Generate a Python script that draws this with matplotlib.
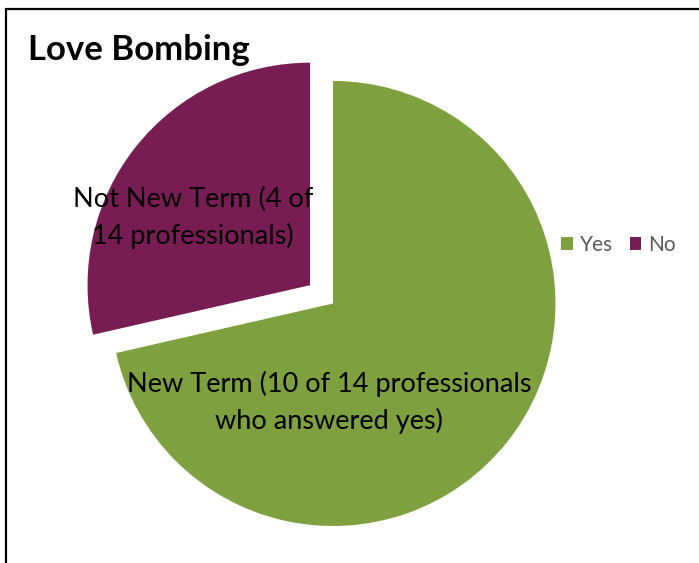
import numpy as np
import matplotlib.pyplot as plt
from matplotlib.patches import Rectangle

# data
answers = ['Yes', 'No']
counts = [10, 4]
colors = ['#7ea03e', '#771d53']
slice_labels = ['New Term (10 of 14 professionals\nwho answered yes)',
                'Not New Term (4 of\n14 professionals)']
title = 'Love Bombing'

plt.rcParams['font.family'] = ['Lato', 'DejaVu Sans']

W, H = 699, 563
fig = plt.figure(figsize=(W / 100, H / 100), dpi=100)

# pie centre / radius in pixels (measured on the reference)
cx, cy, r = 333, 303.5, 222.5
L = 1.3
size = 2 * L * r
ax = fig.add_axes([(cx - L * r) / W, (H - cy - L * r) / H, size / W, size / H])

wedges, _ = ax.pie(counts, colors=colors, startangle=90, counterclock=False,
                   explode=[0, 0.132], radius=1,
                   wedgeprops=dict(linewidth=0))
for w in wedges:
    w.set_clip_on(False)
ax.set_xlim(-L, L)
ax.set_ylim(-L, L)
ax.set_aspect('equal')
ax.axis('off')

# slice labels
ax.text(-0.018, -0.445, slice_labels[0], ha='center', va='center',
        fontsize=19.5, color='black', linespacing=1.5)
ax.text(-0.63, 0.385, slice_labels[1], ha='center', va='center',
        fontsize=19.5, color='black', linespacing=1.5)

fig.text(28 / W, 1 - 50 / H, title, fontsize=25, fontweight='bold',
         ha='left', va='center')

leg = fig.legend(wedges, answers, loc='center left',
                 bbox_to_anchor=(553 / W, 1 - 245 / H), ncol=2, frameon=False,
                 fontsize=15, handlelength=0.55, handleheight=0.55,
                 handletextpad=0.35, columnspacing=0.8, borderaxespad=0)
for t in leg.get_texts():
    t.set_color('#595959')

# outer chart border
fig.patches.append(Rectangle((6 / W, -0.1), 1.2, 1 - 9 / H + 0.1,
                             transform=fig.transFigure, fill=False,
                             edgecolor='black', linewidth=1.6))

fig.savefig('out.png', dpi=100)
